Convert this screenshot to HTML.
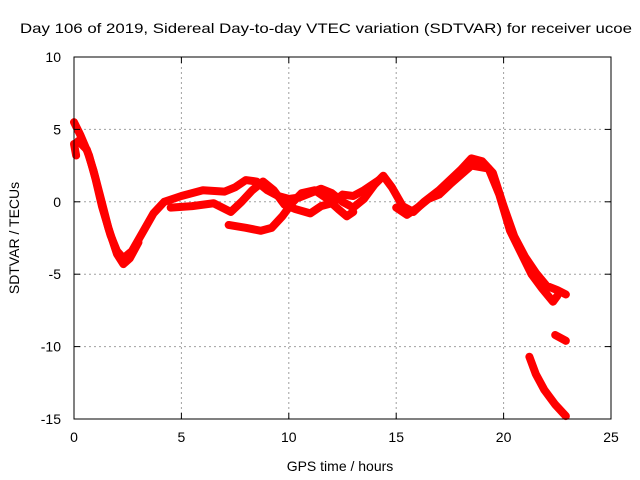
<!DOCTYPE html>
<html><head><meta charset="utf-8"><style>
body{margin:0;background:#fff}
svg{display:block;font-family:"Liberation Sans",sans-serif;font-size:14px}
</style></head><body>
<svg id="chart" width="640" height="480" xmlns="http://www.w3.org/2000/svg">
<text x="20" y="33" textLength="612" lengthAdjust="spacingAndGlyphs">Day 106 of 2019, Sidereal Day-to-day VTEC variation (SDTVAR) for receiver ucoe</text>
<g id="grid"></g>
<g id="series"></g>
<rect x="74" y="57" width="537" height="362" fill="none" stroke="#000" stroke-width="1"/>
<g id="ticks"></g>
<text x="340" y="471" text-anchor="middle">GPS time / hours</text>
<text transform="translate(19,238) rotate(-90)" text-anchor="middle">SDTVAR / TECUs</text>
</svg>
<script>
const xTicks=[0,5,10,15,20,25];
const yTicks=[10,5,0,-5,-10,-15];
const traceA=[[0,5.5],[0.3,4.6],[0.7,3.2],[1,1.6],[1.3,-0.3],[1.7,-2.3],[2,-3.4],[2.3,-3.9],[2.7,-3.4],[3.2,-2.1],[3.7,-0.8],[4.2,0],[5,0.4],[5.5,0.6],[6,0.8],[7,0.7],[7.5,1],[8,1.5],[8.5,1.4],[9,0.8],[9.5,0.4],[10,0.2],[10.5,0.3],[11,0.6],[11.5,0.9],[12,0.6],[12.5,0],[13,-0.4],[13.5,0.2],[14,1.2],[14.4,1.8],[14.8,1],[15.3,-0.3],[15.8,-0.7],[16.3,0],[17,0.8],[17.5,1.5],[18,2.2],[18.5,3],[19,2.8],[19.5,2],[20,-0.3],[20.5,-2.4],[21,-3.8],[21.5,-4.9],[22,-5.8],[22.5,-6.1],[22.9,-6.4]];
const traceB=[[4.5,-0.4],[5.5,-0.3],[6.5,-0.1],[7.3,-0.7],[7.8,0],[8.3,0.8],[8.8,1.4],[9.3,0.8],[9.8,-0.2],[10.3,-0.5],[11,-0.8],[11.5,-0.3],[12,-0.1],[12.5,0.5],[13,0.4],[13.5,0.8],[14.2,1.5]];
const traceC=[[7.2,-1.6],[8,-1.8],[8.7,-2],[9.2,-1.8],[9.7,-1],[10.2,0],[10.6,0.6],[11.2,0.8],[11.7,0.3],[12.3,-0.5],[12.7,-1],[13,-0.7]];
const traceD=[[0.2,4.2],[0.6,3.6],[0.9,2.2],[1.2,0.5],[1.6,-1.8],[2,-3.6],[2.3,-4.3],[2.6,-3.9],[3,-2.8]];
const traceH=[[15,-0.4],[15.5,-0.9],[16,-0.4],[16.5,0.2],[17,0.5],[17.5,1.2],[18.5,2.5],[19.3,2.3],[19.8,0.5],[20.3,-2],[20.8,-3.5],[21.3,-5],[21.8,-6],[22.3,-6.9],[22.5,-6.5]];
const traceE=[[21.2,-10.7],[21.5,-11.9],[21.9,-13],[22.4,-14],[22.9,-14.8]];
const traceF=[[22.4,-9.2],[22.9,-9.6]];
const traceG=[[0,4],[0.1,3.2]];
const traces=[traceA,traceB,traceC,traceD,traceH,traceE,traceF,traceG];
const X0=74,X1=611,Y0=419,Y1=57;
const xs=v=>X0+(v-0)/25*(X1-X0);
const ys=v=>Y0-(v+15)/25*(Y0-Y1);
const NS='http://www.w3.org/2000/svg';
const grid=document.getElementById('grid'),ticks=document.getElementById('ticks'),ser=document.getElementById('series');
function mk(t,a,p){const e=document.createElementNS(NS,t);for(const k in a)e.setAttribute(k,a[k]);p.appendChild(e);return e;}
xTicks.forEach(v=>{const x=xs(v);
 if(v>0&&v<25){const l=mk('line',{x1:x,x2:x,y1:Y1,y2:Y0,stroke:'#a0a0a0','stroke-dasharray':'2,3'},grid);
 
 }
 mk('line',{x1:x,x2:x,y1:Y0,y2:Y0-6,stroke:'#000'},ticks);
 mk('line',{x1:x,x2:x,y1:Y1,y2:Y1+6,stroke:'#000'},ticks);
 const t=mk('text',{x:x,y:442,'text-anchor':'middle'},ticks);t.textContent=v;
 
 });
yTicks.forEach(v=>{const y=ys(v);
 if(v>-15&&v<10){const l=mk('line',{x1:X0,x2:X1,y1:y,y2:y,stroke:'#a0a0a0','stroke-dasharray':'2,3'},grid);
 
 }
 mk('line',{x1:X0,x2:X0+6,y1:y,y2:y,stroke:'#000'},ticks);
 mk('line',{x1:X1,x2:X1-6,y1:y,y2:y,stroke:'#000'},ticks);
 const t=mk('text',{x:61,y:y+5,'text-anchor':'end'},ticks);t.textContent=v;
 
 });
traces.forEach(tr=>{const p=mk('polyline',{points:tr.map(d=>xs(d[0])+','+ys(d[1])).join(' '),fill:'none',stroke:'#ff0000','stroke-width':8,'stroke-linejoin':'round','stroke-linecap':'round'},ser);
 
 });
</script>
</body></html>
